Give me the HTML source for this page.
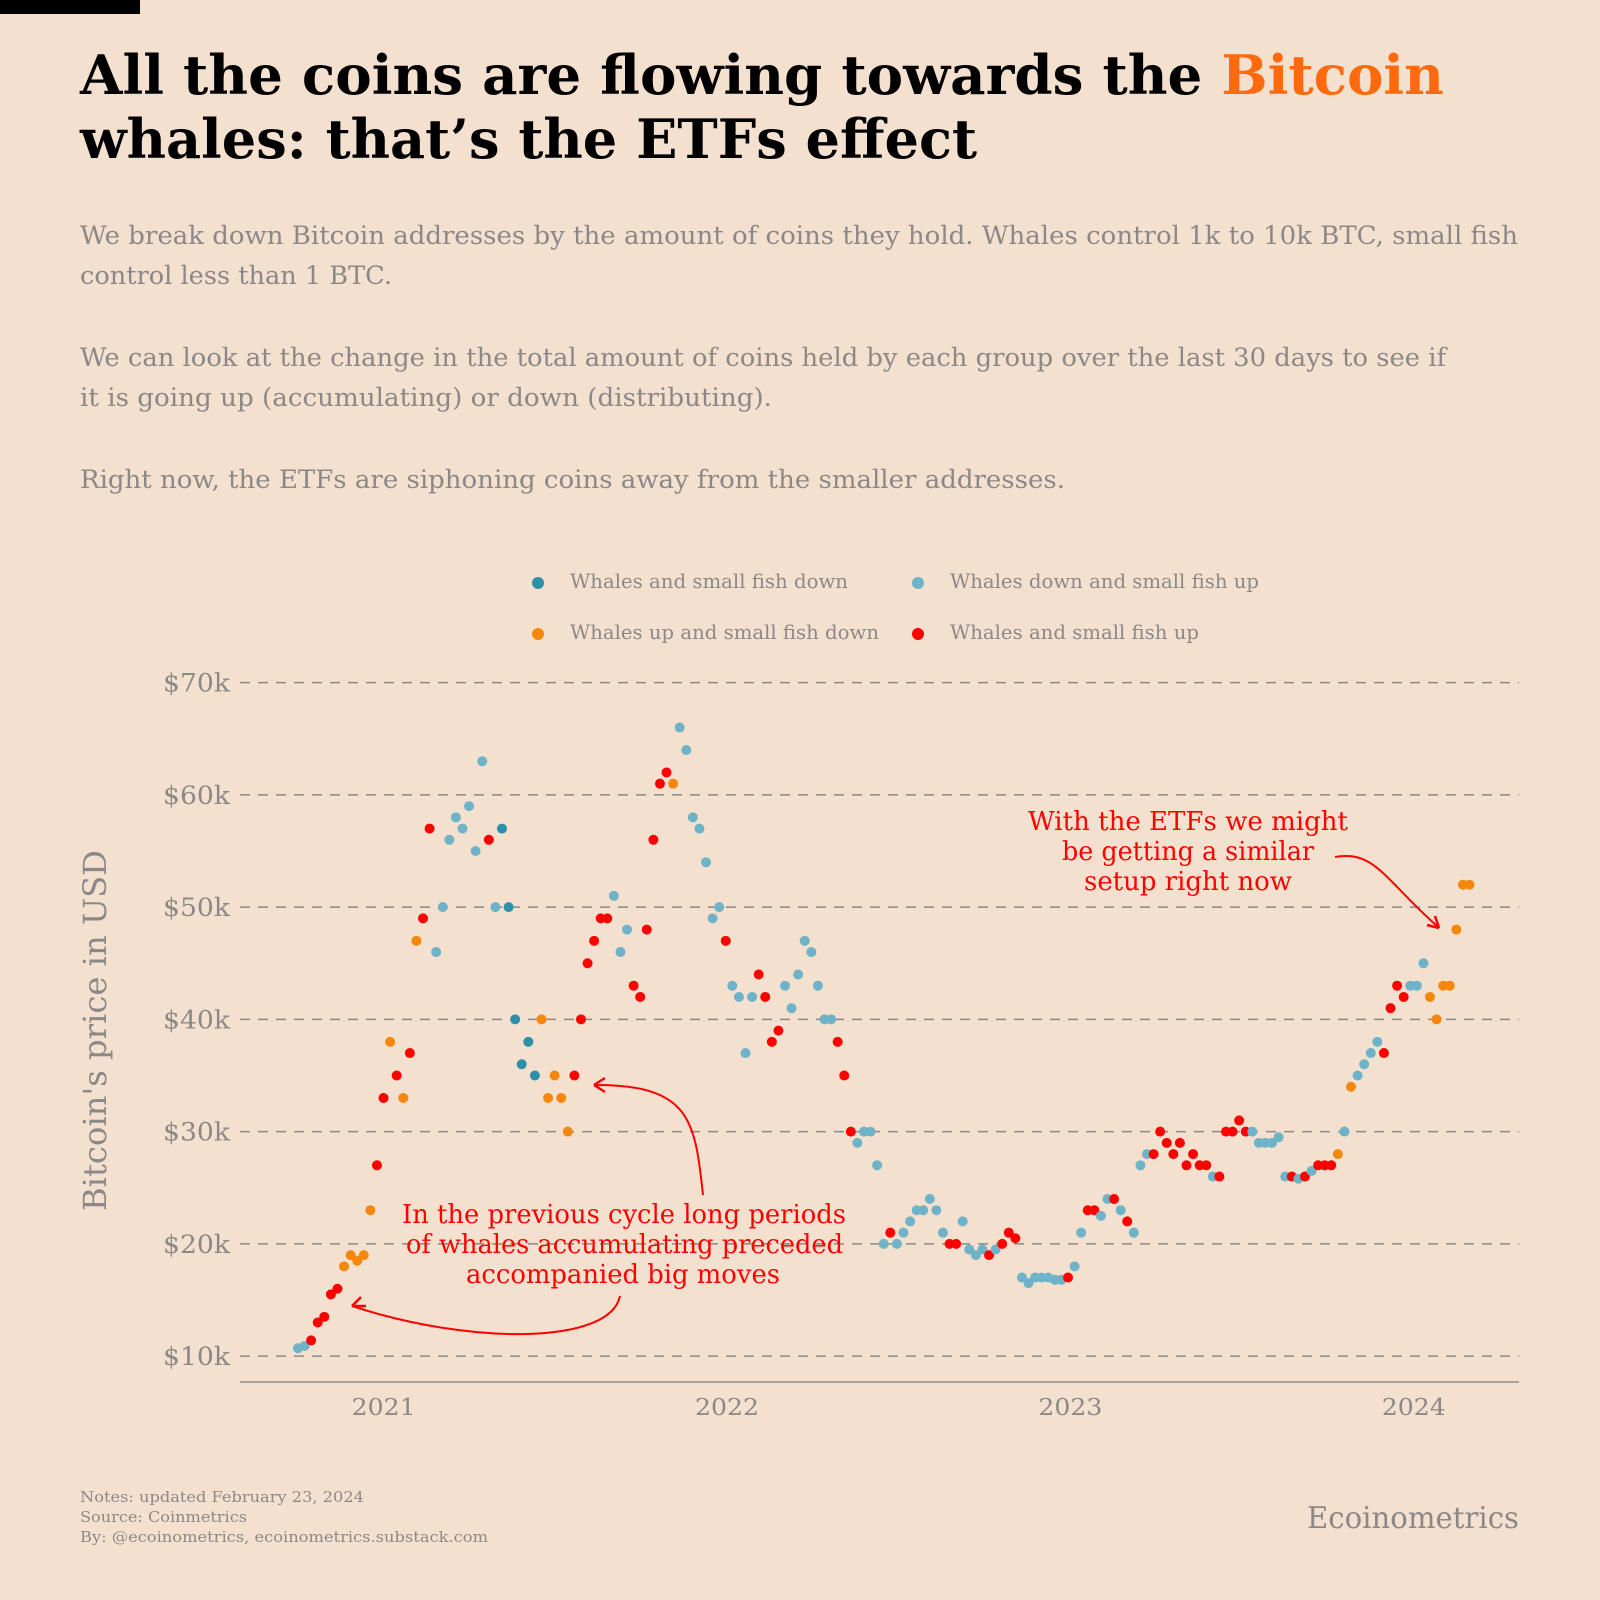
<!DOCTYPE html>
<html><head><meta charset="utf-8"><style>
body{margin:0;background:#f3e0cf;}
svg{display:block;font-family:"DejaVu Serif","Liberation Serif",serif;}
</style></head><body>
<svg id="chart" width="1600" height="1600" viewBox="0 0 1600 1600">
<rect width="1600" height="1600" fill="#f3e0cf"/>
<rect x="0" y="0" width="140" height="14" fill="#000"/>
<text x="80" y="94" font-size="54" font-weight="bold" fill="#000" textLength="1364" lengthAdjust="spacingAndGlyphs">All the coins are flowing towards the <tspan fill="#ff6a0e">Bitcoin</tspan></text>
<text x="80" y="158" font-size="54" font-weight="bold" fill="#000" textLength="897" lengthAdjust="spacingAndGlyphs">whales: that’s the ETFs effect</text>
<g font-size="25" fill="#8c8888">
<text x="80" y="244" textLength="1438" lengthAdjust="spacingAndGlyphs">We break down Bitcoin addresses by the amount of coins they hold. Whales control 1k to 10k BTC, small fish</text>
<text x="80" y="284" textLength="312" lengthAdjust="spacingAndGlyphs">control less than 1 BTC.</text>
<text x="80" y="366" textLength="1366" lengthAdjust="spacingAndGlyphs">We can look at the change in the total amount of coins held by each group over the last 30 days to see if</text>
<text x="80" y="406" textLength="692" lengthAdjust="spacingAndGlyphs">it is going up (accumulating) or down (distributing).</text>
<text x="80" y="488" textLength="985" lengthAdjust="spacingAndGlyphs">Right now, the ETFs are siphoning coins away from the smaller addresses.</text>
</g>
<g font-size="20" fill="#8c8888">
<g><circle cx="538" cy="583" r="6" fill="#2e8fa8"/><text x="570" y="588" textLength="278" lengthAdjust="spacingAndGlyphs">Whales and small fish down</text></g>
<g><circle cx="918" cy="583" r="6" fill="#6fb3c8"/><text x="950" y="588" textLength="309" lengthAdjust="spacingAndGlyphs">Whales down and small fish up</text></g>
<g><circle cx="538" cy="634" r="6" fill="#f5870c"/><text x="570" y="639" textLength="309" lengthAdjust="spacingAndGlyphs">Whales up and small fish down</text></g>
<g><circle cx="918" cy="634" r="6" fill="#ff0000"/><text x="950" y="639" textLength="249" lengthAdjust="spacingAndGlyphs">Whales and small fish up</text></g>
</g>
<g id="grid"></g>
<g id="yticks" font-size="25" fill="#8c8888"></g>
<line x1="240" y1="1382" x2="1519" y2="1382" stroke="#8c8888" stroke-width="1.5"/>
<g id="xticks" font-size="23" fill="#8c8888"></g>
<text x="-1211" y="106" transform="rotate(-90)" font-size="32" fill="#8c8888" textLength="361" lengthAdjust="spacingAndGlyphs">Bitcoin's price in USD</text>
<g id="dots"></g>
<g fill="#ff0000" font-size="26">
<text x="402" y="1223" textLength="444" lengthAdjust="spacingAndGlyphs">In the previous cycle long periods</text>
<text x="406" y="1253" textLength="437" lengthAdjust="spacingAndGlyphs">of whales accumulating preceded</text>
<text x="466" y="1283" textLength="314" lengthAdjust="spacingAndGlyphs">accompanied big moves</text>
</g>
<path d="M620 1296 C610 1345 470 1345 352 1306" fill="none" stroke="#ff0000" stroke-width="2"/>
<path d="M352 1306 l14 0 M352 1306 l9 -9" stroke="#ff0000" stroke-width="2.5" fill="none"/>
<path d="M703 1195 C695 1120 690 1085 596 1085" fill="none" stroke="#ff0000" stroke-width="2"/>
<path d="M594 1085 l11 -7 M594 1085 l11 7" stroke="#ff0000" stroke-width="2.5" fill="none"/>
<g fill="#ff0000" font-size="26">
<text x="1028" y="830" textLength="320" lengthAdjust="spacingAndGlyphs">With the ETFs we might</text>
<text x="1062" y="860" textLength="252" lengthAdjust="spacingAndGlyphs">be getting a similar</text>
<text x="1084" y="890" textLength="208" lengthAdjust="spacingAndGlyphs">setup right now</text>
</g>
<path d="M1335 857 C1375 850 1385 880 1437 926" fill="none" stroke="#ff0000" stroke-width="2"/>
<path d="M1439 928 l-4 -12 M1439 928 l-12 -3" stroke="#ff0000" stroke-width="2.5" fill="none"/>
<g font-size="15" fill="#8c8888">
<text x="80" y="1502" textLength="284" lengthAdjust="spacingAndGlyphs">Notes: updated February 23, 2024</text>
<text x="80" y="1522" textLength="167" lengthAdjust="spacingAndGlyphs">Source: Coinmetrics</text>
<text x="80" y="1542" textLength="408" lengthAdjust="spacingAndGlyphs">By: @ecoinometrics, ecoinometrics.substack.com</text>
</g>
<text x="1307" y="1528" font-size="30" fill="#8c8888" textLength="212" lengthAdjust="spacingAndGlyphs">Ecoinometrics</text>
</svg>
<script>
// weekly samples starting 2020-10-01
const weekIndex = Array.from({length:179},(_, i)=>i);
const prices = [10.7,10.9,11.4,13,13.5,15.5,16,18,19,18.5,19,23,27,33,38,35,33,37,47,49,57,46,50,56,58,57,59,55,63,56,50,57,50,40,36,38,35,40,33,35,33,30,35,40,45,47,49,49,51,46,48,43,42,48,56,61,62,61,66,64,58,57,54,49,50,47,43,42,37,42,44,42,38,39,43,41,44,47,46,43,40,40,38,35,30,29,30,30,27,20,21,20,21,22,23,23,24,23,21,20,20,22,19.5,19,19.5,19,19.5,20,21,20.5,17,16.5,17,17,17,16.8,16.8,17,18,21,23,23,22.5,24,24,23,22,21,27,28,28,30,29,28,29,27,28,27,27,26,26,30,30,31,30,30,29,29,29,29.5,26,26,25.8,26,26.5,27,27,27,28,30,34,35,36,37,38,37,41,43,42,43,43,45,42,40,43,43,48,52,52];
const cats = "llrrrrrooooorrorororrllllllllrlddddddooooorrrrrrlllrrrrrrolllllllrllllrrrrllllllllrrrlllllrllllllllrrllllrlrrrlllllllrllrrllrlrlllrrrrrrrrrlrrrrrllllllrlrlrrrolollllrrrrllloooooooo";
const yTicks = [10,20,30,40,50,60,70];
const xYears = [2021,2022,2023,2024];
const colors = {d:"#2e8fa8", l:"#6fb3c8", o:"#f5870c", r:"#ff0000"};
const NS="http://www.w3.org/2000/svg";
const S=1600/1568;
function yScale(v){return (1329-(v-10)*11)*S;}
function xWeek(i){return (292+i*6.45)*S;}
function xYear(y){return (376+(y-2021)*336.5)*S;}
const grid=document.getElementById('grid'), yt=document.getElementById('yticks'), xt=document.getElementById('xticks'), dots=document.getElementById('dots');
yTicks.forEach(v=>{
  const l=document.createElementNS(NS,'line');
  l.setAttribute('x1',240);l.setAttribute('x2',1519);l.setAttribute('y1',yScale(v));l.setAttribute('y2',yScale(v));
  l.setAttribute('stroke','#8c8888');l.setAttribute('stroke-width','1.5');l.setAttribute('stroke-dasharray','10 8');
  
  
  grid.appendChild(l);
  const t=document.createElementNS(NS,'text');
  t.setAttribute('x',163);t.setAttribute('y',yScale(v)+9);t.textContent='$'+v+'k';
  t.setAttribute('textLength',67);t.setAttribute('lengthAdjust','spacingAndGlyphs');
  
  
  yt.appendChild(t);
});
xYears.forEach(y=>{
  const t=document.createElementNS(NS,'text');
  t.setAttribute('x',xYear(y)-32);t.setAttribute('y',1415);t.textContent=y;
  t.setAttribute('textLength',64);t.setAttribute('lengthAdjust','spacingAndGlyphs');
  
  
  xt.appendChild(t);
});
weekIndex.forEach((w,i)=>{
  const c=document.createElementNS(NS,'circle');
  c.setAttribute('cx',xWeek(w));c.setAttribute('cy',yScale(prices[i]));c.setAttribute('r',5);
  c.setAttribute('fill',colors[cats[i]]||"#6fb3c8");
  
  
  dots.appendChild(c);
});
</script>
</body></html>
